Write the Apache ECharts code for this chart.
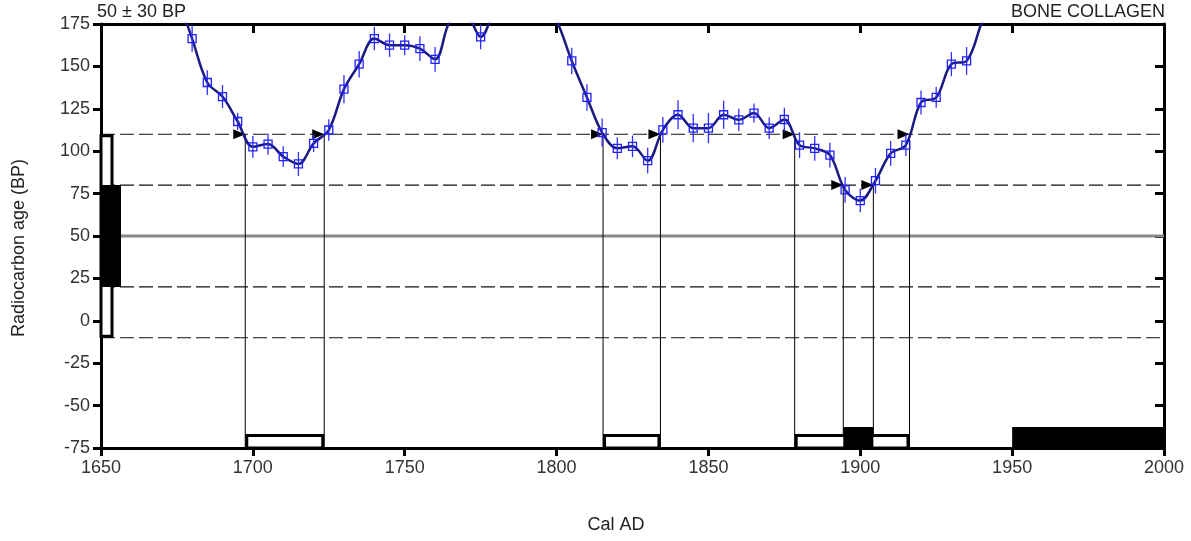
<!DOCTYPE html>
<html><head><meta charset="utf-8">
<script src="https://cdn.jsdelivr.net/npm/echarts@6/dist/echarts.min.js"></script>
<style>html,body{margin:0;padding:0;background:#fff}#c{width:1191px;height:541px}</style>
</head><body><div id="c"></div>
<script>
// ---- data ----
const years = [1675,1680,1685,1690,1695,1700,1705,1710,1715,1720,1725,1730,1735,1740,1745,1750,1755,1760,1765,1770,1775,1780,1785,1790,1795,1800,1805,1810,1815,1820,1825,1830,1835,1840,1845,1850,1855,1860,1865,1870,1875,1880,1885,1890,1895,1900,1905,1910,1915,1920,1925,1930,1935,1940,1945];
const ages  = [192,166.4,140.5,132.2,117.5,102.6,104.2,96.8,92.5,104.6,112.5,136.6,151.3,166.4,162.5,162.5,160.5,154.2,177,180,167.4,185,195,198,190,177,153.2,131.7,111,101.7,102.9,94.4,112.6,121.5,113.6,113.6,121.5,118.5,122.5,113.6,118.7,103.6,101.7,97.7,77.2,70.9,82.6,98.7,103.6,128.7,131.7,151.3,153.2,176,198];
const errs  = [null,7.8,7.3,6.8,5,6.4,6.3,6.1,7.1,5.1,6.4,8.3,7.8,6.9,6.9,5.9,7.3,7.3,null,null,7.3,null,null,null,null,null,7.8,7.8,8.3,6.5,6.4,7.6,7.6,8.5,8.3,8.9,8.3,6.6,5.6,6.4,6.9,7.6,7.3,7.3,7.6,6.9,7.6,7.3,6.4,7.1,6.1,7.1,8.2,null,null];
const sampleAge = 50, sampleErr = 30;
const twoSigmaRanges = [[1697.5,1723.5],[1815.3,1834.2],[1878.4,1916.2]];
const oneSigmaRanges = [[1894.4,1904.3]];
const modernRange = [1950, 2000];
const xTicks = [1650, 2000, 50];
const yTicks = [-75, 175, 25];
const leftText = '50 ± 30 BP', rightText = 'BONE COLLAGEN';
const xName = 'Cal AD', yName = 'Radiocarbon age (BP)';

// ---- derived ----
const lvl2hi = sampleAge + 2*sampleErr, lvl2lo = sampleAge - 2*sampleErr;
const lvl1hi = sampleAge + sampleErr, lvl1lo = sampleAge - sampleErr;
const refLines = [[lvl2hi,'d'],[lvl1hi,'d'],[sampleAge,'s'],[lvl1lo,'d'],[lvl2lo,'d']];
const crossings = [];
twoSigmaRanges.forEach(r => { crossings.push([r[0], lvl2hi]); crossings.push([r[1], lvl2hi]); });
oneSigmaRanges.forEach(r => { crossings.push([r[0], lvl1hi]); crossings.push([r[1], lvl1hi]); });
const bars = twoSigmaRanges.map(r => [r[0], r[1], 0]).concat(oneSigmaRanges.map(r => [r[0], r[1], 1])).concat([[modernRange[0], modernRange[1], 1]]);

const FONT = 'Liberation Sans, Arial, sans-serif';
const chart = echarts.init(document.getElementById('c'));
const X0 = xTicks[0], X1 = xTicks[1], Y0 = yTicks[0];
const plain = v => String(v);

const option = {
  animation: false,
  backgroundColor: '#fff',
  grid: { left: 101, top: 24, width: 1063, height: 424, containLabel: false },
  xAxis: [
    { type: 'value', min: xTicks[0], max: xTicks[1], interval: xTicks[2], position: 'bottom',
      axisLine: { onZero: false, lineStyle: { color: '#000', width: 3 } },
      axisTick: { length: 8, lineStyle: { color: '#000', width: 3 } },
      axisLabel: { fontSize: 18, color: '#333', margin: 11, fontFamily: FONT, formatter: plain },
      splitLine: { show: false } },
    { type: 'value', min: xTicks[0], max: xTicks[1], interval: xTicks[2], position: 'top',
      axisLine: { onZero: false, lineStyle: { color: '#000', width: 3 } },
      axisTick: { inside: true, length: 9, lineStyle: { color: '#000', width: 3 } },
      axisLabel: { show: false }, splitLine: { show: false } }
  ],
  yAxis: [
    { type: 'value', min: yTicks[0], max: yTicks[1], interval: yTicks[2], position: 'left',
      axisLine: { show: true, onZero: false, lineStyle: { color: '#000', width: 3 } },
      axisTick: { show: true, length: 8, lineStyle: { color: '#000', width: 3 } },
      axisLabel: { fontSize: 18, color: '#333', margin: 11, fontFamily: FONT, formatter: plain },
      splitLine: { show: false } },
    { type: 'value', min: yTicks[0], max: yTicks[1], interval: yTicks[2], position: 'right',
      axisLine: { show: true, onZero: false, lineStyle: { color: '#000', width: 3 } },
      axisTick: { show: true, inside: true, length: 9, lineStyle: { color: '#000', width: 3 } },
      axisLabel: { show: false }, splitLine: { show: false } }
  ],
  graphic: [
    { type: 'text', left: 97, top: 3, style: { text: leftText, fontSize: 18, fill: '#222', fontFamily: FONT } },
    { type: 'text', right: 26, top: 3, style: { text: rightText, fontSize: 18, fill: '#222', fontFamily: FONT } },
    { type: 'text', x: 616, y: 525, style: { text: xName, fontSize: 18, fill: '#222', fontFamily: FONT, align: 'center', verticalAlign: 'middle' } },
    { type: 'text', x: 19, y: 248, rotation: Math.PI/2, style: { text: yName, fontSize: 18, fill: '#222', fontFamily: FONT, align: 'center', verticalAlign: 'middle' } }
  ],
  series: [
    { // reference lines
      type: 'custom', z: 1, data: refLines.map(r => [r[0], r[1] === 'd' ? 0 : 1]),
      renderItem(p, api) {
        const v = api.value(0), s = api.value(1);
        const a = api.coord([X0, v]), b = api.coord([X1, v]);
        return { type: 'line', shape: { x1: a[0], y1: a[1], x2: b[0], y2: b[1] },
          style: s ? { stroke: '#888', lineWidth: 3 } : { stroke: '#111', lineWidth: 1.2, lineDash: [14, 5] } };
      }
    },
    { // vertical drop lines
      type: 'custom', z: 2, data: crossings,
      renderItem(p, api) {
        const a = api.coord([api.value(0), api.value(1)]), b = api.coord([api.value(0), Y0]);
        return { type: 'line', shape: { x1: a[0], y1: a[1], x2: b[0], y2: b[1] }, style: { stroke: '#000', lineWidth: 1 } };
      }
    },
    { // bottom range bars
      type: 'custom', z: 3, data: bars,
      renderItem(p, api) {
        const f = api.value(2);
        const a = api.coord([api.value(0), Y0]), b = api.coord([api.value(1), Y0]);
        const h = f ? 21 : 14;
        if (f) return { type: 'rect', shape: { x: a[0], y: a[1] - h, width: b[0] - a[0], height: h }, style: { fill: '#000' } };
        return { type: 'rect', shape: { x: a[0] + 1.5, y: a[1] - h + 1.5, width: b[0] - a[0] - 3, height: h - 1.5 }, style: { fill: '#fff', stroke: '#000', lineWidth: 3 } };
      }
    },
    { // sample distribution on the y axis
      type: 'custom', z: 3, data: [[lvl2lo, lvl2hi, 0], [lvl1lo, lvl1hi, 1]],
      renderItem(p, api) {
        const f = api.value(2);
        const a = api.coord([X0, api.value(1)]), b = api.coord([X0, api.value(0)]);
        if (f) return { type: 'rect', shape: { x: a[0], y: a[1], width: 20, height: b[1] - a[1] }, style: { fill: '#000' } };
        return { type: 'rect', shape: { x: a[0], y: a[1] + 1.5, width: 11, height: b[1] - a[1] - 3 }, style: { fill: '#fff', stroke: '#000', lineWidth: 3 } };
      }
    },
    { // arrows
      type: 'custom', z: 4, data: crossings,
      renderItem(p, api) {
        const c = api.coord([api.value(0), api.value(1)]);
        return { type: 'polygon', shape: { points: [[c[0], c[1]], [c[0] - 12, c[1] - 5], [c[0] - 12, c[1] + 5]] }, style: { fill: '#000' } };
      }
    },
    { // calibration curve
      type: 'line', z: 5, data: years.map((y, i) => [y, ages[i]]), smooth: 0.35, showSymbol: false, clip: true,
      lineStyle: { color: '#1a1a80', width: 2.5 }
    },
    { // error bars
      type: 'custom', z: 6, clip: true,
      data: years.map((y, i) => [y, ages[i], errs[i]]).filter(d => d[2] != null),
      renderItem(p, api) {
        const x = api.value(0), y = api.value(1), e = api.value(2);
        const a = api.coord([x, y + e]), b = api.coord([x, y - e]);
        return { type: 'line', shape: { x1: a[0], y1: a[1], x2: b[0], y2: b[1] }, style: { stroke: '#3030ff', lineWidth: 1.3 } };
      }
    },
    { // markers
      type: 'scatter', z: 7, clip: true,
      data: years.map((y, i) => [y, ages[i]]).filter((d, i) => errs[i] != null),
      symbol: 'rect', symbolSize: 8,
      itemStyle: { color: 'rgba(0,0,0,0)', borderColor: '#2020ff', borderWidth: 1.3, opacity: 1 }
    }
  ]
};
chart.setOption(option);
</script>
</body></html>
